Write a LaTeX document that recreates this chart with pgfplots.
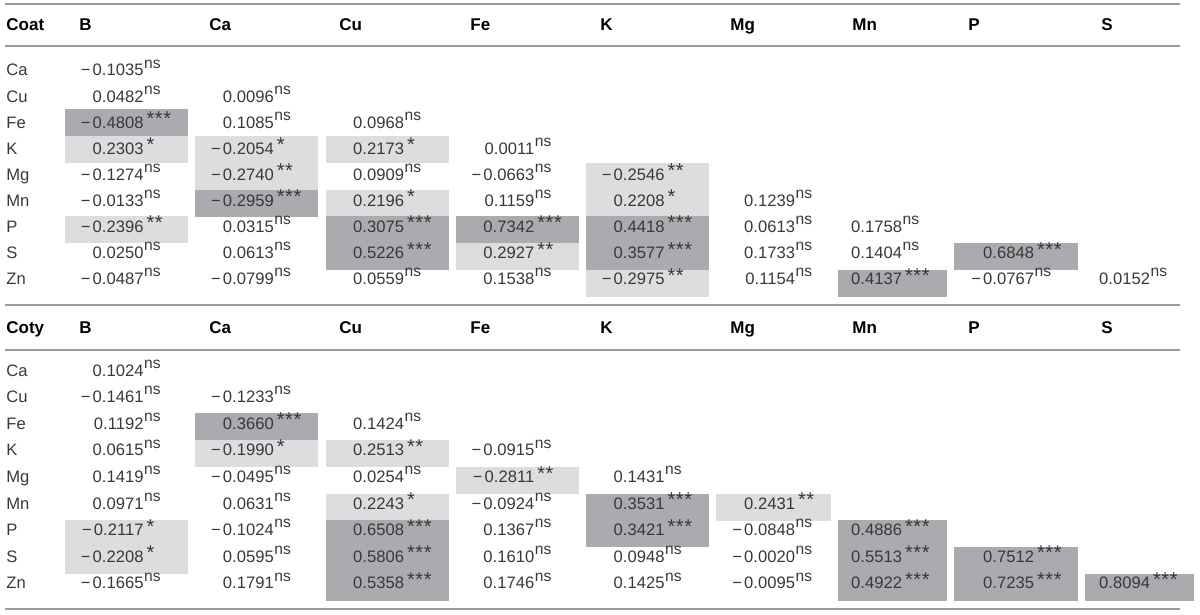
\documentclass[border=0pt]{standalone}
\usepackage{fontspec}
\setmainfont{Liberation Sans}
\usepackage{pgfplots}
\pgfplotsset{compat=1.18}
\usepackage{pgfplotstable}

\definecolor{cellL}{HTML}{DCDDDF}
\definecolor{cellD}{HTML}{AAABAF}
\definecolor{rulec}{HTML}{9A9A9A}
\definecolor{txt}{HTML}{383838}

% shaded cell, width taken from the column
\pgfdeclareplotmark{cell}{%
  \pgfpathrectangle{\pgfpoint{-0.25pt*\cellw}{-6.72pt}}{\pgfpoint{0.5pt*\cellw}{13.44pt}}%
  \pgfusepathqfill}

% minus sign and significance marks
\def\fmtnumA#1#2\relax{\ifx-#1−\kern1.1pt#2\else#1#2\fi}
\newcommand\fmtnum{\edef\cellv{\pgfplotspointmeta}\expandafter\fmtnumA\cellv\relax}
\newcommand\stars[1]{\kern1.5pt\raisebox{1.2pt}{\fontsize{10}{10}\selectfont #1}}
\newcommand\sigmark[1]{\pgfmathtruncatemacro\nsig{#1}\ifcase\nsig\relax
  \kern0.3pt\raisebox{3.9pt}{\fontsize{7.8}{8}\selectfont ns}\or
  \stars{*}\or
  \stars{*\kern0.3pt*}\or
  \stars{*\kern0.3pt*\kern0.3pt*}\fi}
\newcommand\valfont{\fontsize{8.3}{10}\selectfont}
\newcommand\headfont{\fontsize{8.5}{10}\selectfont\bfseries}

% sec: 0 = Coat, 1 = Coty; r = row (Ca..Zn); c = column (B..S); sig: 0 = ns, 1-3 = stars
\pgfplotstableread{
sec r c val sig
0 1 1 -0.1035 0
0 2 1 0.0482 0
0 2 2 0.0096 0
0 3 1 -0.4808 3
0 3 2 0.1085 0
0 3 3 0.0968 0
0 4 1 0.2303 1
0 4 2 -0.2054 1
0 4 3 0.2173 1
0 4 4 0.0011 0
0 5 1 -0.1274 0
0 5 2 -0.2740 2
0 5 3 0.0909 0
0 5 4 -0.0663 0
0 5 5 -0.2546 2
0 6 1 -0.0133 0
0 6 2 -0.2959 3
0 6 3 0.2196 1
0 6 4 0.1159 0
0 6 5 0.2208 1
0 6 6 0.1239 0
0 7 1 -0.2396 2
0 7 2 0.0315 0
0 7 3 0.3075 3
0 7 4 0.7342 3
0 7 5 0.4418 3
0 7 6 0.0613 0
0 7 7 0.1758 0
0 8 1 0.0250 0
0 8 2 0.0613 0
0 8 3 0.5226 3
0 8 4 0.2927 2
0 8 5 0.3577 3
0 8 6 0.1733 0
0 8 7 0.1404 0
0 8 8 0.6848 3
0 9 1 -0.0487 0
0 9 2 -0.0799 0
0 9 3 0.0559 0
0 9 4 0.1538 0
0 9 5 -0.2975 2
0 9 6 0.1154 0
0 9 7 0.4137 3
0 9 8 -0.0767 0
0 9 9 0.0152 0
1 1 1 0.1024 0
1 2 1 -0.1461 0
1 2 2 -0.1233 0
1 3 1 0.1192 0
1 3 2 0.3660 3
1 3 3 0.1424 0
1 4 1 0.0615 0
1 4 2 -0.1990 1
1 4 3 0.2513 2
1 4 4 -0.0915 0
1 5 1 0.1419 0
1 5 2 -0.0495 0
1 5 3 0.0254 0
1 5 4 -0.2811 2
1 5 5 0.1431 0
1 6 1 0.0971 0
1 6 2 0.0631 0
1 6 3 0.2243 1
1 6 4 -0.0924 0
1 6 5 0.3531 3
1 6 6 0.2431 2
1 7 1 -0.2117 1
1 7 2 -0.1024 0
1 7 3 0.6508 3
1 7 4 0.1367 0
1 7 5 0.3421 3
1 7 6 -0.0848 0
1 7 7 0.4886 3
1 8 1 -0.2208 1
1 8 2 0.0595 0
1 8 3 0.5806 3
1 8 4 0.1610 0
1 8 5 0.0948 0
1 8 6 -0.0020 0
1 8 7 0.5513 3
1 8 8 0.7512 3
1 9 1 -0.1665 0
1 9 2 0.1791 0
1 9 3 0.5358 3
1 9 4 0.1746 0
1 9 5 0.1425 0
1 9 6 -0.0095 0
1 9 7 0.4922 3
1 9 8 0.7235 3
1 9 9 0.8094 3
}\corr

\pgfplotstableread{
sec r t
0 1 Ca
0 2 Cu
0 3 Fe
0 4 K
0 5 Mg
0 6 Mn
0 7 P
0 8 S
0 9 Zn
1 1 Ca
1 2 Cu
1 3 Fe
1 4 K
1 5 Mg
1 6 Mn
1 7 P
1 8 S
1 9 Zn
}\rowlabs

\pgfplotstableread{
x y t
6 31 Coat
79 31 B
209 31 Ca
339 31 Cu
470 31 Fe
600 31 K
730 31 Mg
852 31 Mn
968 31 P
1101 31 S
6 333 Coty
79 333 B
209 333 Ca
339 333 Cu
470 333 Fe
600 333 K
730 333 Mg
852 333 Mn
968 333 P
1101 333 S
}\heads

\begin{document}
\begin{tikzpicture}[declare function={
  nx(\k)=(\k<5.5)*(143.5+130.25*(\k-1))+(\k>5.5)*(\k<6.5)*795+(\k>6.5)*(\k<7.5)*902+(\k>7.5)*(\k<8.5)*1034+(\k>8.5)*1150;
  cx(\k)=(\k<5.5)*(126.5+130.25*(\k-1))+(\k>5.5)*(\k<6.5)*773.5+(\k>6.5)*(\k<7.5)*892.5+(\k>7.5)*(\k<8.5)*1016+(\k>8.5)*1139.5;
  cw(\k)=(\k<5.5)*123+(\k>5.5)*(\k<6.5)*115+(\k>6.5)*(\k<7.5)*109+(\k>7.5)*(\k<8.5)*124+(\k>8.5)*109;
  celly(\secn,\rown)=69.1+304*\secn+26.8*(\rown-1);
  texty(\secn,\rown)=76+300*\secn+(26.06+0.54*\secn)*(\rown-1);
}]
\begin{axis}[
    x=0.5pt, y=0.5pt,
    xmin=0, xmax=1200, ymin=0, ymax=615,
    y dir=reverse,
    axis lines=box,
    axis line style={draw=none},
    ticks=none,
    clip=false,
]
% shaded cells
\addplot[scatter, only marks, mark=cell, point meta=\thisrow{sig},
    scatter/use mapped color={draw=none, fill=cellL},
    visualization depends on={cw(\thisrow{c}) \as \cellw},
    restrict expr to domain={\thisrow{sig}}{1:2}]
    table[x expr={cx(\thisrow{c})}, y expr={celly(\thisrow{sec},\thisrow{r})}] {\corr};
\addplot[scatter, only marks, mark=cell, point meta=\thisrow{sig},
    scatter/use mapped color={draw=none, fill=cellD},
    visualization depends on={cw(\thisrow{c}) \as \cellw},
    restrict expr to domain={\thisrow{sig}}{3:3}]
    table[x expr={cx(\thisrow{c})}, y expr={celly(\thisrow{sec},\thisrow{r})}] {\corr};

% rules
\addplot[rulec, line width=0.7pt] coordinates {(5,4) (1180,4)};
\addplot[rulec, line width=0.7pt] coordinates {(5,46) (1180,46)};
\addplot[rulec, line width=0.7pt] coordinates {(5,305) (1180,305)};
\addplot[rulec, line width=0.7pt] coordinates {(5,350) (1180,350)};
\addplot[rulec, line width=0.7pt] coordinates {(5,609) (1180,609)};

% values
\addplot[draw=none, mark=none, point meta=explicit symbolic,
    visualization depends on={\thisrow{sig} \as \cells},
    nodes near coords={\valfont\makebox[0pt][r]{\fmtnum}\makebox[0pt][l]{\sigmark{\cells}}},
    every node near coord/.append style={anchor=base, inner sep=0pt, text=txt}]
    table[x expr={nx(\thisrow{c})}, y expr={texty(\thisrow{sec},\thisrow{r})}, meta=val] {\corr};

% row labels
\addplot[draw=none, mark=none, point meta=explicit symbolic,
    nodes near coords={\valfont\pgfplotspointmeta},
    every node near coord/.append style={anchor=base west, inner sep=0pt, text=txt}]
    table[x expr=6, y expr={texty(\thisrow{sec},\thisrow{r})}, meta=t] {\rowlabs};

% column heads
\addplot[draw=none, mark=none, point meta=explicit symbolic,
    nodes near coords={\headfont\pgfplotspointmeta},
    every node near coord/.append style={anchor=base west, inner sep=0pt, text=black}]
    table[x=x, y=y, meta=t] {\heads};
\end{axis}
\end{tikzpicture}
\end{document}
